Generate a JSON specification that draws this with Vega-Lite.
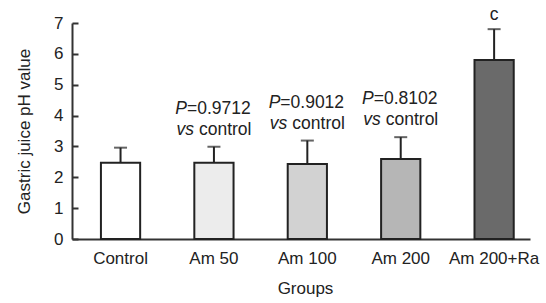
{
  "$schema": "https://vega.github.io/schema/vega-lite/v6.json",
  "width": 458,
  "height": 216,
  "autosize": {"type": "none"},
  "padding": {"left": 72, "top": 23, "right": 16, "bottom": 64},
  "config": {
    "font": "Liberation Sans",
    "view": {"stroke": null},
    "axisY": {
      "tickCount": 7,
      "labelOverlap": false,
      "labelBound": false,
      "grid": false,
      "tickSize": -6,
      "tickWidth": 2,
      "tickColor": "#333",
      "domainColor": "#333",
      "domainWidth": 2,
      "labelFontSize": 17,
      "labelColor": "#222",
      "labelPadding": 15,
      "titleFontSize": 17,
      "titleFontWeight": "normal",
      "titleColor": "#222",
      "titlePadding": 20
    }
  },
  "data": {
    "values": [
      {"group": "Control", "ph": 2.47, "upper": 2.96, "p": "", "pv": "", "vs": "", "ctl": "", "sig": ""},
      {"group": "Am 50", "ph": 2.47, "upper": 2.99, "p": "P", "pv": "=0.9712", "vs": "vs", "ctl": "control", "sig": ""},
      {"group": "Am 100", "ph": 2.43, "upper": 3.19, "p": "P", "pv": "=0.9012", "vs": "vs", "ctl": "control", "sig": ""},
      {"group": "Am 200", "ph": 2.59, "upper": 3.30, "p": "P", "pv": "=0.8102", "vs": "vs", "ctl": "control", "sig": ""},
      {"group": "Am 200+Ra", "ph": 5.80, "upper": 6.80, "p": "", "pv": "", "vs": "", "ctl": "", "sig": "c"}
    ]
  },
  "encoding": {
    "x": {
      "field": "group",
      "type": "nominal",
      "sort": null,
      "title": "Groups",
      "scale": {"paddingInner": 0.58, "paddingOuter": 0.242, "align": 0.64},
      "axis": {
        "labelAngle": 0,
        "labelFontSize": 17,
        "labelColor": "#222",
        "labelPadding": 11,
        "ticks": false,
        "domainColor": "#333",
        "domainWidth": 2,
        "titleFontSize": 17,
        "titleFontWeight": "normal",
        "titleColor": "#222",
        "titlePadding": 14,
        "titleX": 233
      }
    }
  },
  "layer": [
    {
      "mark": {"type": "bar", "stroke": "#222", "strokeWidth": 2},
      "encoding": {
        "y": {
          "field": "ph",
          "type": "quantitative",
          "title": "Gastric juice pH value",
          "scale": {"domain": [0, 7]}
        },
        "fill": {
          "field": "group",
          "type": "nominal",
          "legend": null,
          "scale": {
            "domain": ["Control", "Am 50", "Am 100", "Am 200", "Am 200+Ra"],
            "range": ["#ffffff", "#ececec", "#d2d2d2", "#b6b6b6", "#6a6a6a"]
          }
        }
      }
    },
    {
      "mark": {"type": "rule", "strokeWidth": 2, "color": "#222"},
      "encoding": {
        "y": {"field": "ph", "type": "quantitative"},
        "y2": {"field": "upper"}
      }
    },
    {
      "mark": {"type": "tick", "orient": "horizontal", "size": 13, "thickness": 2, "color": "#222"},
      "encoding": {"y": {"field": "upper", "type": "quantitative"}}
    },
    {
      "mark": {"type": "text", "fontSize": 17.5, "fontStyle": "italic", "align": "right", "baseline": "middle", "dx": -27, "dy": -38, "color": "#222"},
      "encoding": {"y": {"field": "upper", "type": "quantitative"}, "text": {"field": "p"}}
    },
    {
      "mark": {"type": "text", "fontSize": 17.5, "align": "left", "baseline": "middle", "dx": -27, "dy": -38, "color": "#222"},
      "encoding": {"y": {"field": "upper", "type": "quantitative"}, "text": {"field": "pv"}}
    },
    {
      "mark": {"type": "text", "fontSize": 17.5, "fontStyle": "italic", "align": "right", "baseline": "middle", "dx": -20, "dy": -17, "color": "#222"},
      "encoding": {"y": {"field": "upper", "type": "quantitative"}, "text": {"field": "vs"}}
    },
    {
      "mark": {"type": "text", "fontSize": 17.5, "align": "left", "baseline": "middle", "dx": -15, "dy": -17, "color": "#222"},
      "encoding": {"y": {"field": "upper", "type": "quantitative"}, "text": {"field": "ctl"}}
    },
    {
      "mark": {"type": "text", "fontSize": 17.5, "align": "center", "baseline": "middle", "dy": -14, "color": "#222"},
      "encoding": {"y": {"field": "upper", "type": "quantitative"}, "text": {"field": "sig"}}
    }
  ]
}
